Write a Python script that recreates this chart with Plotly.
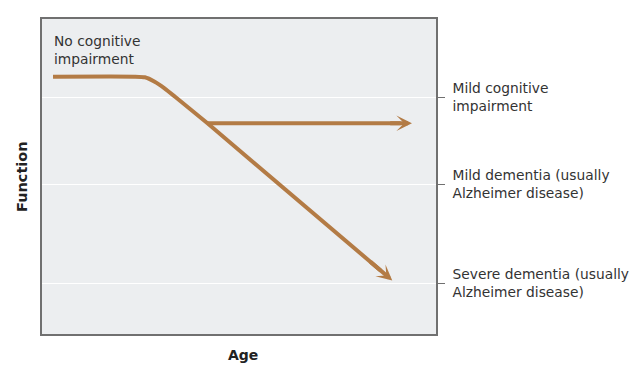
import plotly.graph_objects as go

# Schematic data (arbitrary units: age 0-100, function 0-100)
# main trajectory: normal ageing plateau, then decline to severe dementia
decline_age = [2.8, 23.5, 26.1, 28.6, 31.1, 33.7, 42.0, 86.0]
decline_function = [81.7, 81.7, 81.5, 80.1, 78.0, 75.4, 66.9, 20.1]
decline_head_from = (83.0, 23.3)
decline_head_to = (88.9, 17.0)

# branch that stays at mild cognitive impairment
stable_age = [42.0, 91.0]
stable_function = [66.9, 66.9]
stable_head_from = (88.0, 66.9)
stable_head_to = (93.9, 66.9)

level_values = [75.1, 47.6, 16.1]
level_labels = ["Mild cognitive<br>impairment",
                "Mild dementia (usually<br>Alzheimer disease)",
                "Severe dementia (usually<br>Alzheimer disease)"]

BROWN = "#b37b45"
FONT = "DejaVu Sans"
FS = 13.8

fig = go.Figure()
fig.add_trace(go.Scatter(x=decline_age, y=decline_function, mode="lines",
                         line=dict(color=BROWN, width=4, shape="spline", smoothing=0.5),
                         hoverinfo="skip", showlegend=False))
fig.add_trace(go.Scatter(x=stable_age, y=stable_function, mode="lines",
                         line=dict(color=BROWN, width=4),
                         hoverinfo="skip", showlegend=False))

for start, end in ((stable_head_from, stable_head_to), (decline_head_from, decline_head_to)):
    fig.add_annotation(x=end[0], y=end[1], ax=start[0], ay=start[1],
                       xref="x", yref="y", axref="x", ayref="y", text="",
                       showarrow=True, arrowhead=3, arrowsize=0.65, arrowwidth=4,
                       arrowcolor=BROWN, standoff=0)

fig.add_annotation(x=2.5, y=90.2, xref="x", yref="y", xanchor="left", yanchor="middle",
                   text="No cognitive<br>impairment", showarrow=False, align="left",
                   font=dict(family=FONT, size=FS, color="#333333"))

fig.add_annotation(x=-0.052, y=0.5, xref="paper", yref="paper", text="<b>Function</b>",
                   textangle=-90, showarrow=False, xanchor="center", yanchor="middle",
                   font=dict(family=FONT, size=14.5, color="#222222"))
fig.add_annotation(x=0.509, y=-0.066, xref="paper", yref="paper", text="<b>Age</b>",
                   showarrow=False, xanchor="center", yanchor="middle",
                   font=dict(family=FONT, size=14, color="#222222"))

fig.update_layout(
    width=630, height=364,
    margin=dict(l=34, r=201, t=9, b=38),
    paper_bgcolor="white", plot_bgcolor="#eceef0",
    showlegend=False,
    font=dict(family=FONT, size=FS, color="#333333"),
)
fig.update_xaxes(range=[0, 100], showgrid=False, zeroline=False, showticklabels=False,
                 ticks="", showline=True, mirror=True, linecolor="#707070", linewidth=1.5)
fig.update_yaxes(range=[0, 100], side="right", tickvals=level_values, ticktext=level_labels,
                 ticks="outside", ticklen=7, tickcolor="#707070", tickwidth=1,
                 ticklabelstandoff=5,
                 showgrid=True, gridcolor="white", gridwidth=1, zeroline=False,
                 showline=True, mirror=True, linecolor="#707070", linewidth=1.5,
                 tickfont=dict(family=FONT, size=FS, color="#333333"))

fig.write_html("out.html")
